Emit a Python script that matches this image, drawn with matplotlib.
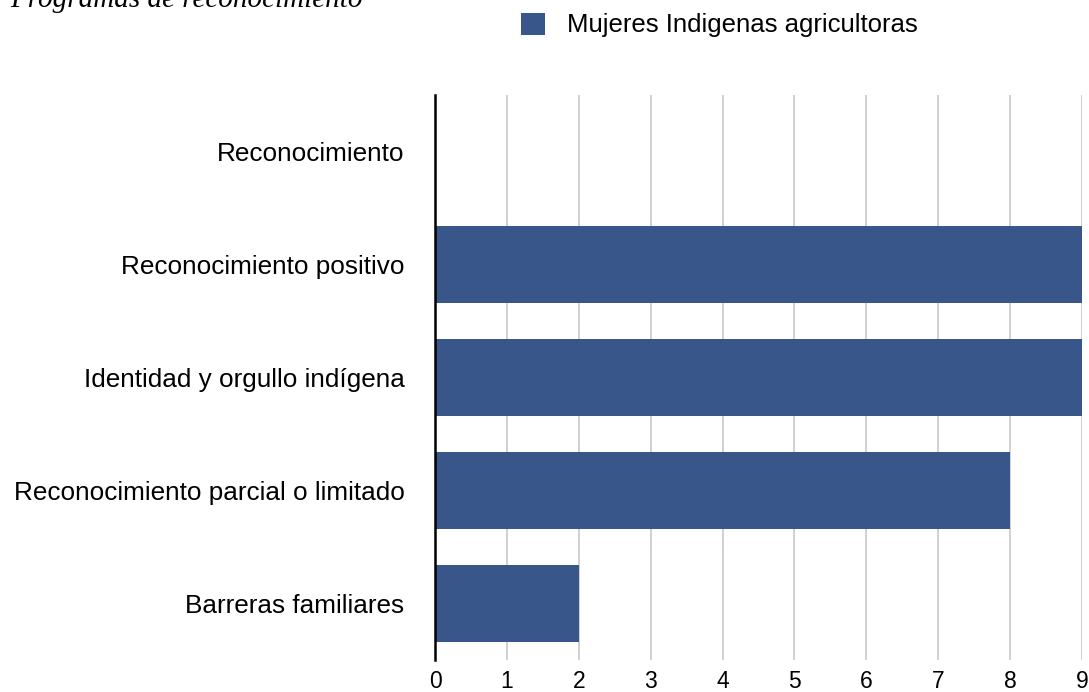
import matplotlib
matplotlib.use("Agg")
import matplotlib.pyplot as plt

categories = ["Reconocimiento", "Reconocimiento positivo", "Identidad y orgullo indígena",
              "Reconocimiento parcial o limitado", "Barreras familiares"]
values = [0, 9, 9, 8, 2]
series_name = "Mujeres Indigenas agricultoras"
title = "Programas de reconocimiento"
xticks = list(range(0, 10))

W, H = 1089, 692
fig = plt.figure(figsize=(W / 100, H / 100), dpi=100)
ax = fig.add_axes([435 / W, 1 - 660 / H, (1082 - 435) / W, (660 - 95) / H])

color = "#38568a"
y = list(range(len(categories)))
bars = ax.barh(y, values, height=0.69, color=color, zorder=3, label=series_name)
ax.set_ylim(len(categories) - 0.5, -0.5)
ax.set_xlim(0, 9)
ax.set_xticks(xticks)
ax.set_xticklabels([str(t) for t in xticks], fontsize=16.5, family="Liberation Sans")
ax.set_yticks(y)
ax.set_yticklabels(categories, fontsize=18.8, family="Liberation Sans")
ax.tick_params(axis="both", length=0)
ax.tick_params(axis="x", pad=7)
ax.tick_params(axis="y", pad=22)
ax.xaxis.grid(True, color="#c8c8c8", linewidth=1.2, zorder=0)
ax.set_axisbelow(True)
for s in ["top", "right", "bottom"]:
    ax.spines[s].set_visible(False)
ax.spines["left"].set_linewidth(1.8)
ax.spines["left"].set_color("black")
ax.spines["left"].set_zorder(5)

fig.text(10 / W, 1 - 7 / H, title, fontsize=21, family="Liberation Serif",
         style="italic", ha="left", va="baseline")

leg = fig.legend(handles=[bars], labels=[series_name], loc="center left",
                 bbox_to_anchor=(521 / W, 1 - 25 / H), frameon=False,
                 prop={"family": "Liberation Sans", "size": 18.5},
                 handlelength=0.95, handleheight=0.95, handletextpad=0.85,
                 borderaxespad=0, borderpad=0)

fig.savefig("out.png", dpi=100)
